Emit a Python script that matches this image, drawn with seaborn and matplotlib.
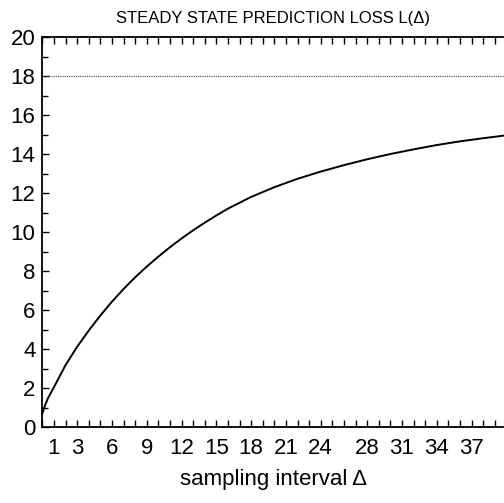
import numpy as np
import pandas as pd
import seaborn as sns
import matplotlib.pyplot as plt
from matplotlib.ticker import FixedLocator, MultipleLocator

# values
delta = [0, 0.25, 0.5, 1, 2, 3, 4, 5, 6, 7, 8, 9, 10, 11, 12, 13, 14, 15, 16,
         18, 20, 22, 24, 26, 28, 30, 32, 34, 36, 38, 40]
loss = [0.7, 1.15, 1.5, 2.05, 3.18, 4.12, 4.95, 5.72, 6.43, 7.08, 7.68, 8.23,
        8.74, 9.22, 9.67, 10.09, 10.48, 10.85, 11.2, 11.8, 12.3, 12.73,
        13.1, 13.43, 13.73, 14.0, 14.24, 14.46, 14.65, 14.81, 14.96]
limit_level = 18
x_tick_labels = [1, 3, 6, 9, 12, 15, 18, 21, 24, 28, 31, 34, 37]
y_tick_labels = [0, 2, 4, 6, 8, 10, 12, 14, 16, 18, 20]

df = pd.DataFrame({'delta': delta, 'loss': loss})

sns.set_style('ticks')
plt.rcParams['font.family'] = ['Liberation Sans', 'DejaVu Sans']
plt.rcParams['text.color'] = 'black'
plt.rcParams['axes.labelcolor'] = 'black'
plt.rcParams['xtick.color'] = 'black'
plt.rcParams['ytick.color'] = 'black'

fig = plt.figure(figsize=(5.04, 5.03), dpi=100)
ax = fig.add_axes([0.0841, 0.151, 0.9159, 0.7754])

sns.lineplot(data=df, x='delta', y='loss', ax=ax, color='black', linewidth=1.4)
ax.axhline(limit_level, color='#444444', linewidth=0.8, linestyle=(0, (1, 1)))

ax.set_xlim(0, 39.8)
ax.set_ylim(0, 20)
ax.xaxis.set_major_locator(FixedLocator(x_tick_labels))
ax.xaxis.set_minor_locator(MultipleLocator(1))
ax.yaxis.set_major_locator(FixedLocator(y_tick_labels))
ax.yaxis.set_minor_locator(MultipleLocator(1))

ax.tick_params(axis='both', which='both', direction='in', top=True, right=False,
               color='black', width=1.0)
ax.tick_params(axis='x', which='both', length=5, labelsize=16, pad=8)
ax.tick_params(axis='y', which='major', length=5, labelsize=16, pad=5)
ax.tick_params(axis='y', which='minor', length=4)

for side in ['left', 'bottom', 'top']:
    ax.spines[side].set_linewidth(1.3)
    ax.spines[side].set_color('black')
ax.spines['right'].set_visible(False)

ax.set_xlabel('sampling interval Δ', fontsize=16, labelpad=7)
ax.set_ylabel('')
ax.set_title('STEADY STATE PREDICTION LOSS L(Δ)', fontsize=12, pad=10)

fig.savefig('out.png', dpi=100)
